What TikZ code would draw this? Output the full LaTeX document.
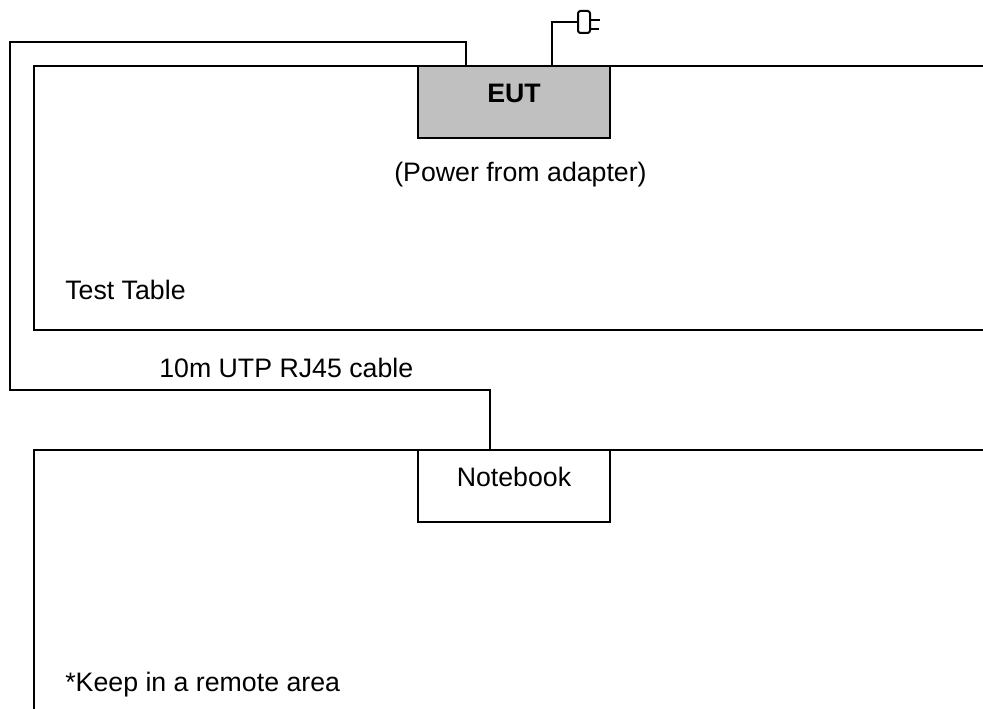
\documentclass[tikz,border=0pt]{standalone}
\usepackage{fontspec}
\setmainfont{Liberation Sans}
\definecolor{eutgray}{RGB}{192,192,192}
\tikzset{
  wire/.style={draw=black, line width=0.04cm},
  unit/.style={wire, inner sep=0pt, minimum width=3.84cm, text height=.73cm, text depth=.71cm},
  txt/.style={inner sep=0pt, anchor=base west},
}
\begin{document}
\begin{tikzpicture}[font=\fontsize{15.2pt}{18pt}\selectfont]
\useasboundingbox (0,0) rectangle (19.66,-14.18);
% tables
\draw [wire] (19.66,-1.32)--(.68,-1.32)--(.68,-6.6)--(19.66,-6.6);
\draw [wire] (19.66,-9)--(.68,-9)--(.68,-14.18);
% units
\draw (10.28,-2.04) node[unit, fill=eutgray](EUT){\textbf{EUT}}
(10.28,-9.72) node[unit, fill=white](NB){Notebook};
\draw (11.54,-.44) node[wire, inner sep=0pt, rounded corners=.05cm, minimum width=.24cm, minimum height=.44cm, anchor=west](PLUG){};
% cable
\coordinate (CE) at (9.32,-1.32);
\coordinate (CN) at (9.8,-9);
\draw [wire] (CE)--(9.32,-.84)--(.2,-.84)--(.2,-7.8)--(9.8,-7.8)--(CN);
% power lead
\coordinate (PE) at (11.04,-1.32);
\draw [wire] (PE)--(PE|-PLUG.west)--(PLUG.west);
\coordinate (P1) at ([yshift=.04cm]PLUG.east);
\coordinate (P2) at ([yshift=-.14cm]PLUG.east);
\draw [wire] (P1)--++(.18,0);
\draw [wire] (P2)--++(.16,0);
% labels
\node[inner sep=0pt](PWR) at (10.41,-3.5){(Power from adapter)};
\node[txt](TT) at (1.3,-5.98){Test Table};
\node[txt](CBL) at (3.18,-7.54){10m UTP RJ45 cable};
\node[txt](KEEP) at (1.3,-13.82){*Keep in a remote area};
\end{tikzpicture}
\end{document}
